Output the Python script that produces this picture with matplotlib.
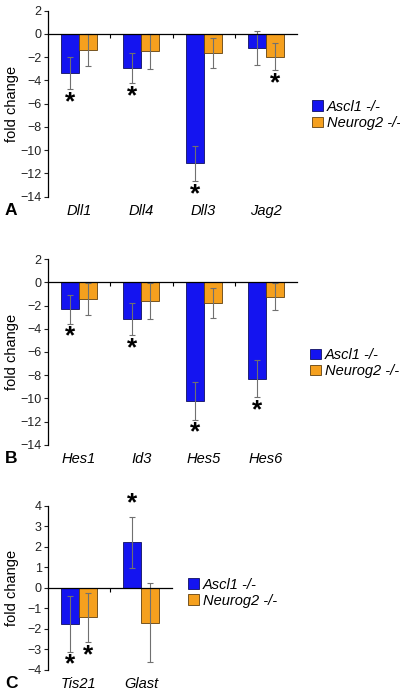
import numpy as np
import matplotlib.pyplot as plt

plt.rcParams['font.family'] = ['Liberation Sans', 'DejaVu Sans']

# panel A: Notch ligands
genes_a = ["Dll1", "Dll4", "Dll3", "Jag2"]
ascl1_a = [-3.37, -2.94, -11.14, -1.23]
ascl1_a_err = [1.35, 1.3, 1.5, 1.45]
neurog2_a = [-1.37, -1.49, -1.63, -1.94]
neurog2_a_err = [1.4, 1.5, 1.3, 1.2]
sig_ascl1_a = [True, True, True, False]
sig_neurog2_a = [False, False, False, True]

# panel B: Notch targets
genes_b = ["Hes1", "Id3", "Hes5", "Hes6"]
ascl1_b = [-2.31, -3.14, -10.23, -8.29]
ascl1_b_err = [1.25, 1.4, 1.6, 1.6]
neurog2_b = [-1.43, -1.6, -1.8, -1.23]
neurog2_b_err = [1.4, 1.55, 1.3, 1.15]
sig_ascl1_b = [True, True, True, True]
sig_neurog2_b = [False, False, False, False]

# panel C
genes_c = ["Tis21", "Glast"]
ascl1_c = [-1.75, 2.22]
ascl1_c_err = [1.35, 1.24]
neurog2_c = [-1.44, -1.7]
neurog2_c_err = [1.2, 1.93]
sig_ascl1_c = [True, True]
sig_neurog2_c = [True, False]

blue = "#1414f0"
orange = "#f5a01e"
W, H = 400, 693


def panel(rect, genes, a, a_err, n, n_err, sig_a, sig_n, ylim, yticks, letter, legend_pos):
    l, t, w, h = rect  # pixels
    ax = fig.add_axes([l / W, 1 - (t + h) / H, w / W, h / H])
    x = np.arange(len(genes))
    bw = 0.29
    ekw = dict(ecolor="#707070", elinewidth=0.8, capsize=2, capthick=0.8)
    ax.bar(x - bw / 2, a, bw, color=blue, edgecolor="#101060", linewidth=0.6,
           yerr=a_err, error_kw=ekw, label="Ascl1 -/-", zorder=2)
    ax.bar(x + bw / 2, n, bw, color=orange, edgecolor="#604010", linewidth=0.6,
           yerr=n_err, error_kw=ekw, label="Neurog2 -/-", zorder=2)

    # significance stars
    for xs, vals, errs, sig in [(x - bw / 2, a, a_err, sig_a), (x + bw / 2, n, n_err, sig_n)]:
        for xi, v, e, s in zip(xs, vals, errs, sig):
            if not s:
                continue
            sgn = 1 if v > 0 else -1
            ax.annotate("*", (xi, v + sgn * e), xytext=(0, sgn * 13), textcoords="offset pixels",
                        ha="center", va="center", fontsize=19, fontweight="bold")

    ax.set_xlim(-0.5, len(genes) - 0.5)
    ax.set_ylim(*ylim)
    ax.set_yticks(yticks)
    ax.tick_params(axis="y", labelsize=9, length=3, width=0.8, pad=1.5, colors="#222222")
    for s in ["top", "right"]:
        ax.spines[s].set_visible(False)
    ax.spines["left"].set_linewidth(0.9)
    ax.spines["bottom"].set_position(("data", 0))
    ax.spines["bottom"].set_linewidth(0.9)
    ax.set_xticks(np.arange(len(genes) - 1) + 0.5)
    ax.tick_params(axis="x", length=3, width=0.8, labelbottom=False)
    for xi, g in zip(x, genes):
        ax.text(xi, -14 / h, g, transform=ax.get_xaxis_transform(), ha="center", va="center",
                fontsize=10.5, style="italic")
    ax.set_ylabel("fold change", fontsize=10.5, labelpad=1)
    ax.yaxis.set_label_coords(-29 / w, 0.5)
    ax.text(-43 / w, -14 / h, letter, transform=ax.transAxes, ha="left", va="center",
            fontsize=12.5, fontweight="bold")
    ax.legend(loc="center left", bbox_to_anchor=legend_pos, frameon=False,
              prop={"style": "italic", "size": 10.5}, handlelength=0.75, handleheight=0.75,
              handletextpad=0.3, labelspacing=0.15, borderaxespad=0)
    return ax


fig = plt.figure(figsize=(W / 100, H / 100), dpi=100)
panel((48, 10.7, 249, 186), genes_a, ascl1_a, ascl1_a_err, neurog2_a, neurog2_a_err,
      sig_ascl1_a, sig_neurog2_a, (-14, 2), np.arange(-14, 3, 2), "A", (258 / 249, 0.44))
panel((48, 259.3, 249, 185.4), genes_b, ascl1_b, ascl1_b_err, neurog2_b, neurog2_b_err,
      sig_ascl1_b, sig_neurog2_b, (-14, 2), np.arange(-14, 3, 2), "B", (256 / 249, 0.44))
panel((48, 505.7, 124, 164.3), genes_c, ascl1_c, ascl1_c_err, neurog2_c, neurog2_c_err,
      sig_ascl1_c, sig_neurog2_c, (-4, 4), np.arange(-4, 5, 1), "C", (134 / 124, 0.47))

fig.savefig("out.png", dpi=100)
